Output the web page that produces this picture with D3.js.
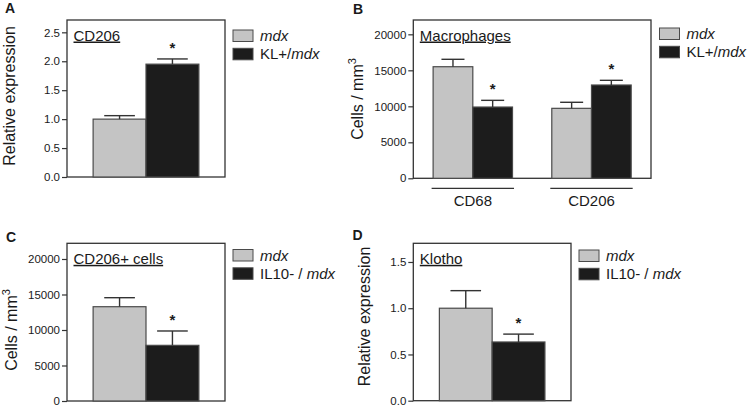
<!DOCTYPE html>
<html><head><meta charset="utf-8">
<script src="https://cdn.jsdelivr.net/npm/d3@7"></script>
<style>
body{margin:0;background:#fff}
text{font-family:"Liberation Sans",Arial,Helvetica,sans-serif;fill:#1a1a1a}
</style></head>
<body><svg id="c" width="748" height="406"></svg>
<script>
// ---------- DATA ----------
const categoriesA = ["CD206"];
const seriesA = ["mdx", "KL+/mdx"];
const meanA = [[1.00], [1.95]];
const semA = [[0.06], [0.09]];
const ticksA = [0, 0.5, 1.0, 1.5, 2.0, 2.5];

const categoriesB = ["CD68", "CD206"];
const seriesB = ["mdx", "KL+/mdx"];
const meanB = [[15500, 9720], [9900, 12960]];
const semB = [[1030, 840], [930, 650]];
const ticksB = [0, 5000, 10000, 15000, 20000];

const categoriesC = ["CD206+ cells"];
const seriesC = ["mdx", "IL10- / mdx"];
const meanC = [[13280], [7840]];
const semC = [[1270], [2020]];
const ticksC = [0, 5000, 10000, 15000, 20000];

const categoriesD = ["Klotho"];
const seriesD = ["mdx", "IL10- / mdx"];
const meanD = [[1.00], [0.635]];
const semD = [[0.19], [0.085]];
const ticksD = [0, 0.5, 1.0, 1.5];

const starsSeries = 1; // significance marked on second series

const colors = ["#c4c4c4", "#1c1c1c"];

const svg = d3.select("#c");

function addItalicLabel(sel, label) {
  const parts = label.split(/(mdx)/).filter(s => s.length);
  parts.forEach(p => {
    sel.append("tspan").text(p).style("font-style", p === "mdx" ? "italic" : "normal");
  });
}

function panel(cfg) {
  const [x0, y0, x1, y1] = cfg.box;
  const g = svg.append("g");
  const y = d3.scaleLinear().domain([0, cfg.yMax]).range([y1, y0]);
  const x = d3.scaleBand().domain(cfg.categories).range([x0, x1])
    .paddingInner(cfg.pi).paddingOuter(cfg.po);
  const xs = d3.scaleBand().domain(cfg.series).range([0, x.bandwidth()]);

  g.append("rect").attr("x", x0).attr("y", y0).attr("width", x1 - x0).attr("height", y1 - y0)
    .attr("fill", "none").attr("stroke", "#333").attr("stroke-width", 1.3);

  const ax = g.append("g").attr("transform", `translate(${x0},0)`)
    .call(d3.axisLeft(y).tickValues(cfg.ticks).tickSize(5).tickPadding(2).tickFormat(cfg.fmt));
  ax.select(".domain").remove();
  ax.selectAll(".tick line").attr("stroke", "#333").attr("stroke-width", 1.2);
  ax.selectAll(".tick text").attr("font-size", 11.5).attr("fill", "#1a1a1a")
    .style("font-family", '"Liberation Sans",Arial,sans-serif');

  cfg.series.forEach((s, si) => {
    cfg.categories.forEach((c, ci) => {
      const v = cfg.mean[si][ci], e = cfg.sem[si][ci];
      const bx = x(c) + xs(s), bw = xs.bandwidth();
      g.append("rect").attr("x", bx).attr("y", y(v)).attr("width", bw).attr("height", y(0) - y(v))
        .attr("fill", colors[si]).attr("stroke", "#4a4a4a").attr("stroke-width", 1.2);
      const cx = bx + bw / 2, cw = bw * 0.29;
      g.append("line").attr("x1", cx).attr("x2", cx).attr("y1", y(v)).attr("y2", y(v + e))
        .attr("stroke", "#333").attr("stroke-width", 1.4);
      g.append("line").attr("x1", cx - cw).attr("x2", cx + cw).attr("y1", y(v + e)).attr("y2", y(v + e))
        .attr("stroke", "#333").attr("stroke-width", 1.4);
      if (si === starsSeries) {
        g.append("text").attr("x", cx).attr("y", y(v + e) - 6).attr("text-anchor", "middle")
          .attr("font-size", 15).attr("font-weight", "bold").text("*");
      }
    });
  });

  g.append("text").attr("x", x0 + 6.5).attr("y", y0 + 20.5).attr("font-size", 15)
    .style("text-decoration", "underline").text(cfg.title);

  g.append("text").attr("x", cfg.letterPos[0]).attr("y", cfg.letterPos[1])
    .attr("font-size", 14).attr("font-weight", "bold").text(cfg.letter);

  const yl = g.append("text").attr("text-anchor", "middle").attr("font-size", 16)
    .attr("transform", `translate(${cfg.ylabPos[0]},${cfg.ylabPos[1]}) rotate(-90)`);
  if (cfg.cells) {
    yl.append("tspan").text("Cells / mm");
    yl.append("tspan").attr("font-size", 11).attr("dy", -7).text("3");
  } else {
    yl.text("Relative expression");
  }

  cfg.series.forEach((s, si) => {
    const ly = cfg.legend[1] + si * 18.3;
    g.append("rect").attr("x", cfg.legend[0]).attr("y", ly).attr("width", 20).attr("height", 11.5)
      .attr("fill", colors[si]).attr("stroke", "#4a4a4a").attr("stroke-width", 1);
    const t = g.append("text").attr("x", cfg.legend[0] + 27).attr("y", ly + 11).attr("font-size", 15);
    addItalicLabel(t, s);
  });

  if (cfg.showCats) {
    cfg.categories.forEach(c => {
      g.append("line").attr("x1", x(c) - 1.5).attr("x2", x(c) + x.bandwidth() + 1.5)
        .attr("y1", y1 + 10).attr("y2", y1 + 10).attr("stroke", "#333").attr("stroke-width", 1.2);
      g.append("text").attr("x", x(c) + x.bandwidth() / 2).attr("y", y1 + 27.5)
        .attr("text-anchor", "middle").attr("font-size", 15).text(c);
    });
  }
}

const fmt1 = d3.format(".1f");
const fmt0 = d3.format("d");

panel({box: [67, 20, 225, 177], yMax: 2.713, ticks: ticksA, fmt: fmt1,
  categories: categoriesA, series: seriesA, mean: meanA, sem: semA, pi: 0, po: 0.247,
  title: "CD206", letter: "A", letterPos: [5, 13], ylabPos: [15, 96], cells: false,
  legend: [233, 30], showCats: false});

panel({box: [413.3, 20, 651, 178.3], yMax: 21990, ticks: ticksB, fmt: fmt0,
  categories: categoriesB, series: seriesB, mean: meanB, sem: semB, pi: 0.331, po: 0.167,
  title: "Macrophages", letter: "B", letterPos: [353, 13.5], ylabPos: [363, 99], cells: true,
  legend: [659.5, 28], showCats: true});

panel({box: [67, 243.3, 225, 401], yMax: 22210, ticks: ticksC, fmt: fmt0,
  categories: categoriesC, series: seriesC, mean: meanC, sem: semC, pi: 0, po: 0.247,
  title: "CD206+ cells", letter: "C", letterPos: [6, 241.5], ylabPos: [16.5, 330], cells: true,
  legend: [233, 249.5], showCats: false});

panel({box: [413.3, 243.3, 571, 400.7], yMax: 1.702, ticks: ticksD, fmt: fmt1,
  categories: categoriesD, series: seriesD, mean: meanD, sem: semD, pi: 0, po: 0.247,
  title: "Klotho", letter: "D", letterPos: [352.5, 239.5], ylabPos: [370, 316.5], cells: false,
  legend: [579, 250], showCats: false});
</script></body></html>
